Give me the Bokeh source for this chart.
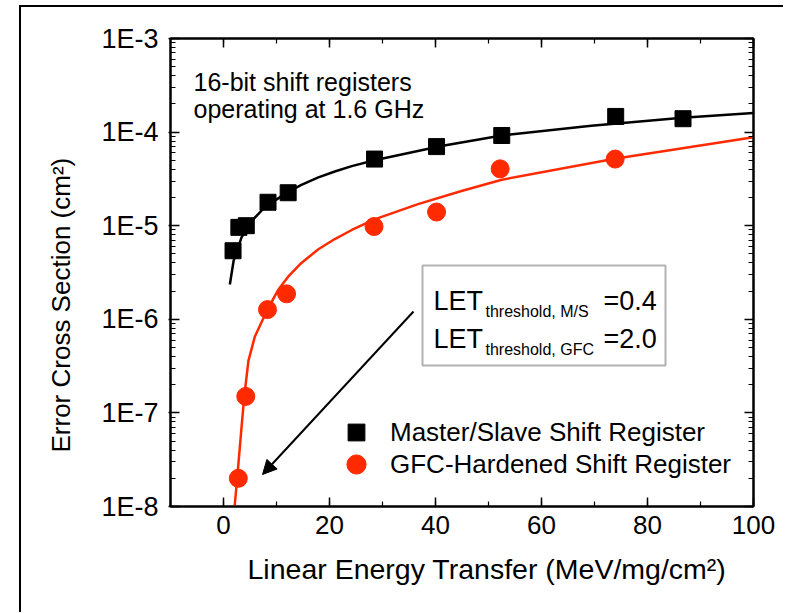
import math
from bokeh.plotting import figure
from bokeh.models import (LinearAxis, LogAxis, LogTicker, SingleIntervalTicker,
                          CustomJSTickFormatter, Legend, LegendItem, Label, Title,
                          BoxAnnotation, Arrow, NormalHead)
from bokeh.embed import file_html
from bokeh.resources import INLINE

# ---------------- data ----------------
ms_let = [1.8, 2.9, 4.3, 8.4, 12.2, 28.5, 40.2, 52.5, 74.0, 86.7]
ms_sigma = [5.4e-6, 9.6e-6, 1.0e-5, 1.78e-5, 2.25e-5, 5.15e-5, 7.0e-5, 9.2e-5, 1.47e-4, 1.39e-4]

gfc_let = [2.8, 4.2, 8.3, 11.9, 28.4, 40.2, 52.2, 73.9]
gfc_sigma = [2.0e-8, 1.5e-7, 1.27e-6, 1.87e-6, 9.8e-6, 1.4e-5, 4.05e-5, 5.15e-5]

ms_fit_let = [1.2, 1.9, 3.4, 5.6, 7.8, 12.2, 14.7, 17.9, 21, 24.2, 28.5, 41.1, 52.5, 69.4, 86.6, 100]
ms_fit_sigma = [2.35e-6, 4.2e-6, 7.5e-6, 1.17e-5, 1.58e-5, 2.3e-5, 2.73e-5, 3.28e-5, 3.79e-5,
                4.33e-5, 5.0e-5, 7.1e-5, 9.2e-5, 1.17e-4, 1.42e-4, 1.6e-4]

gfc_fit_let = [2.1, 2.6, 3.3, 3.9, 4.7, 5.9, 7.5, 8.7, 10.3, 12.2, 14.7, 17.9, 21, 24.2, 28.5,
               36.7, 44.9, 52.5, 73.8, 100]
gfc_fit_sigma = [1.0e-8, 2.06e-8, 6.0e-8, 1.47e-7, 3.6e-7, 6.5e-7, 1.02e-6, 1.4e-6, 2.05e-6,
                 2.85e-6, 4.0e-6, 5.6e-6, 7.2e-6, 9.0e-6, 1.17e-5, 1.7e-5, 2.35e-5, 3.1e-5,
                 5.2e-5, 8.8e-5]

series_names = ["Master/Slave Shift Register", "GFC-Hardened Shift Register"]
x_title = "Linear Energy Transfer (MeV/mg/cm²)"
y_title = "Error Cross Section (cm²)"
note_lines = ["16-bit shift registers", "operating at 1.6 GHz"]
thresholds = [("threshold, M/S", "=0.4"), ("threshold, GFC", "=2.0")]

# ---------------- styling ----------------
FONT = "Liberation Sans"
RED = "#ff2a00"

# frame geometry (page pixels) used to place annotations
FX0, FX1, FY0, FY1 = 170.0, 753.0, 38.0, 506.0
XMIN, XMAX, YMIN, YMAX = -10.0, 100.0, 1e-8, 1e-3


def px2x(px):
    return XMIN + (px - FX0) / (FX1 - FX0) * (XMAX - XMIN)


def py2y(py):
    lo, hi = math.log10(YMIN), math.log10(YMAX)
    return 10 ** (hi - (py - FY0) / (FY1 - FY0) * (hi - lo))


p = figure(frame_width=583, frame_height=468, x_range=(XMIN, XMAX), y_range=(YMIN, YMAX),
           y_axis_type="log", output_backend="svg", toolbar_location=None,
           min_border_left=149, min_border_right=30, min_border_top=31, min_border_bottom=106,
           background_fill_color="white", border_fill_color="white")
p.margin = (5, 0, 0, 19)
p.styles = {"border-top": "2px solid black", "border-left": "2px solid black"}
p.xgrid.visible = False
p.ygrid.visible = False
p.outline_line_color = "black"
p.outline_line_width = 2

bottom = p.xaxis[0]
left = p.yaxis[0]

xticker = SingleIntervalTicker(interval=20, num_minor_ticks=2)
yticker = LogTicker(num_minor_ticks=10)
bottom.ticker = xticker
left.ticker = yticker
left.formatter = CustomJSTickFormatter(code="return '1E' + Math.round(Math.log10(tick));")

top = LinearAxis(ticker=xticker, formatter=CustomJSTickFormatter(code="return '';"))
right = LogAxis(ticker=yticker, formatter=CustomJSTickFormatter(code="return '';"))
p.add_layout(top, "above")
p.add_layout(right, "right")

for ax in [bottom, left, top, right]:
    ax.axis_line_color = "black"
    ax.axis_line_width = 2
    ax.major_tick_line_color = "black"
    ax.minor_tick_line_color = "black"
    ax.major_tick_line_width = 1.5
    ax.minor_tick_line_width = 1.2
    ax.major_tick_in = 9
    ax.major_tick_out = 0
    ax.minor_tick_in = 5
    ax.minor_tick_out = 0
    ax.major_label_text_font = FONT
    ax.major_label_text_color = "black"
for ax in [top, right]:
    ax.major_label_text_font_size = "0px"
    ax.major_label_standoff = 0
bottom.major_label_text_font_size = "26px"
left.major_label_text_font_size = "27px"
left.major_tick_out = 2
left.major_label_standoff = 10
bottom.major_label_standoff = 9

# axis titles
p.add_layout(Title(text=x_title, align="left", offset=77, vertical_align="top",
                   text_font=FONT, text_font_size="28.5px", text_font_style="normal",
                   text_color="black", standoff=33), "below")
p.add_layout(Title(text=y_title, align="left", offset=54, text_font=FONT,
                   text_font_size="26px", text_font_style="normal", text_color="black",
                   standoff=45), "left")

# fit curves
p.line(ms_fit_let, ms_fit_sigma, line_color="black", line_width=2.5)
p.line(gfc_fit_let, gfc_fit_sigma, line_color=RED, line_width=2.5)

# data points
r_ms = p.scatter(ms_let, ms_sigma, marker="square", size=16, fill_color="black", line_color="black")
r_gfc = p.scatter(gfc_let, gfc_sigma, marker="circle", size=18, fill_color=RED, line_color=RED)

# legend: one entry per box so the rows can sit closer than the glyph boxes
for name, rend, loc, g, s in [(series_names[0], r_ms, (165, 53), 42, 13),
                              (series_names[1], r_gfc, (162, 18), 48, 10)]:
    p.add_layout(Legend(items=[LegendItem(label=name, renderers=[rend])],
                        location=loc, glyph_width=g, glyph_height=g, padding=0, margin=0,
                        label_standoff=s, label_text_font=FONT, label_text_font_size="26px",
                        label_text_color="black", border_line_alpha=0,
                        background_fill_alpha=0))

# note text
for i, t in enumerate(note_lines):
    p.add_layout(Label(x=px2x(193), y=py2y(81 + 27 * i), text=t, text_font=FONT,
                       text_font_size="25px", text_color="black", text_baseline="alphabetic"))

# threshold box
p.add_layout(BoxAnnotation(left=px2x(422), right=px2x(665), top=py2y(265), bottom=py2y(365),
                           fill_alpha=0, line_color="black", line_width=2))
for i, (sub, val) in enumerate(thresholds):
    base = 300 + 38 * i
    p.add_layout(Label(x=px2x(433), y=py2y(base), text="LET", text_font=FONT,
                       text_font_size="27px", text_color="black", text_baseline="alphabetic"))
    p.add_layout(Label(x=px2x(485), y=py2y(base + 11), text=sub, text_font=FONT,
                       text_font_size="16px", text_color="black", text_baseline="alphabetic"))
    p.add_layout(Label(x=px2x(603), y=py2y(base), text=val, text_font=FONT,
                       text_font_size="27px", text_color="black", text_baseline="alphabetic"))

# arrow
p.add_layout(Arrow(x_start=px2x(413), y_start=py2y(311), x_end=px2x(262), y_end=py2y(474),
                   line_color="black", line_width=2,
                   end=NormalHead(size=14, fill_color="black", line_color="black")))

open("out.html", "w").write(file_html(p, INLINE))
